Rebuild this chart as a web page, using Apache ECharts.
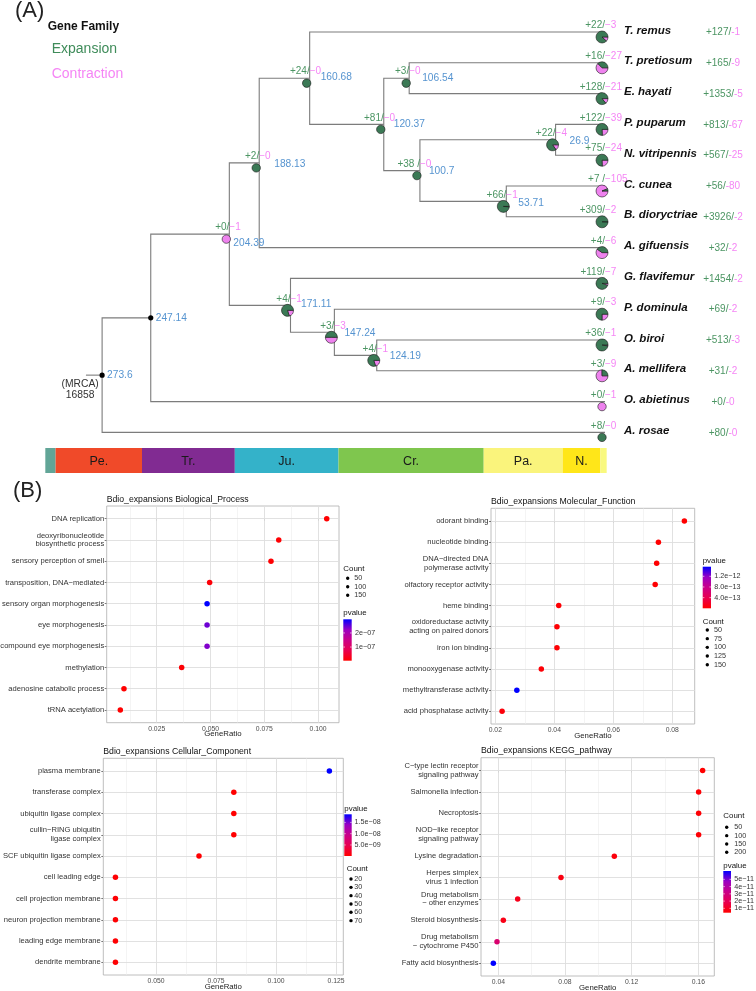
<!DOCTYPE html>
<html><head><meta charset="utf-8">
<script src="https://cdn.jsdelivr.net/npm/echarts@6/dist/echarts.min.js"></script>
<style>html,body{margin:0;padding:0;background:#fff}#c{width:756px;height:991px}</style>
</head><body><div id="c"></div>
<script>
// ================= PANEL A DATA =================
const species = ['T. remus','T. pretiosum','E. hayati','P. puparum','N. vitripennis','C. cunea','B. dioryctriae','A. gifuensis','G. flavifemur','P. dominula','O. biroi','A. mellifera','O. abietinus','A. rosae'];
const leafGain = [22,16,128,122,75,7,309,4,119,9,36,3,0,8];
const leafLoss = [3,27,21,39,24,105,2,6,7,3,1,9,1,0];
const totalGain = [127,165,1353,813,567,56,3926,32,1454,69,513,31,0,80];
const totalLoss = [1,9,5,67,25,80,2,2,2,2,3,2,0,0];
const nodeIds = ['n273','n247','n204','n188','n160','n120','n106','n100','n27','n54','n171','n147','n124'];
const nodeAges = [273.6,247.14,204.39,188.13,160.68,120.37,106.54,100.7,26.9,53.71,171.11,147.24,124.19];
const nodeGain = [null,null,0,2,24,81,3,38,22,66,4,3,4];
const nodeLoss = [null,null,1,0,0,0,0,0,4,1,1,3,1];
const nodeChildren = [['n247','L13'],['n204','L12'],['n188','n171'],['n160','L7'],['L0','n120'],['n106','n100'],['L1','L2'],['n27','n54'],['L3','L4'],['L5','L6'],['L8','n147'],['L9','n124'],['L10','L11']];
const rootEdgeStart = 282.4;
const mrcaFamilies = 16858;
const periodNames = ['','Pe.','Tr.','Ju.','Cr.','Pa.','N.',''];
const periodStart = [304.5,298.9,251.9,201.4,145.0,66.0,23.03,2.58];
const periodEnd = [298.9,251.9,201.4,145.0,66.0,23.03,2.58,-0.9];

// ================= PANEL B DATA =================
const bpTerms = ['DNA replication','deoxyribonucleotide\nbiosynthetic process','sensory perception of smell','transposition, DNA\u2212mediated','sensory organ morphogenesis','eye morphogenesis','compound eye morphogenesis','methylation','adenosine catabolic process','tRNA acetylation'];
const bpRatio = [0.1040,0.0817,0.0781,0.0496,0.0484,0.0484,0.0484,0.0366,0.0098,0.0081];
const bpPvalue = [4e-9,6e-9,6e-9,1.0e-8,2.97e-7,2.45e-7,2.35e-7,8e-9,3e-9,3e-9];
const bpTicks = [0.025,0.05,0.075,0.1];
const bpPTicks = [1e-7,2e-7];
const bpCount = [50,100,150];

const mfTerms = ['odorant binding','nucleotide binding','DNA\u2212directed DNA\npolymerase activity','olfactory receptor activity','heme binding','oxidoreductase activity\nacting on paired donors','iron ion binding','monooxygenase activity','methyltransferase activity','acid phosphatase activity'];
const mfRatio = [0.0841,0.0753,0.0747,0.0742,0.0415,0.0409,0.0409,0.0356,0.0273,0.0223];
const mfPvalue = [1e-15,5e-15,5e-15,1e-14,2e-14,2e-14,2e-14,3e-14,1.56e-12,5e-14];
const mfTicks = [0.02,0.04,0.06,0.08];
const mfPTicks = [4e-13,8e-13,1.2e-12];
const mfCount = [50,75,100,125,150];

const ccTerms = ['plasma membrane','transferase complex','ubiquitin ligase complex','cullin\u2212RING ubiquitin\nligase complex','SCF ubiquitin ligase complex','cell leading edge','cell projection membrane','neuron projection membrane','leading edge membrane','dendrite membrane'];
const ccRatio = [0.1222,0.0824,0.0824,0.0824,0.0679,0.0331,0.0331,0.0331,0.0331,0.0331];
const ccPvalue = [1.86e-8,1e-10,1e-10,1e-10,2e-10,3e-10,3e-10,3e-10,3e-10,3e-10];
const ccTicks = [0.05,0.075,0.1,0.125];
const ccPTicks = [5e-9,1e-8,1.5e-8];
const ccCount = [20,30,40,50,60,70];

const keggTerms = ['C\u2212type lectin receptor\nsignaling pathway','Salmonella infection','Necroptosis','NOD\u2212like receptor\nsignaling pathway','Lysine degradation','Herpes simplex\nvirus 1 infection','Drug metabolism\n\u2212 other enzymes','Steroid biosynthesis','Drug metabolism\n\u2212 cytochrome P450','Fatty acid biosynthesis'];
const keggRatio = [0.1626,0.1602,0.1602,0.1602,0.1096,0.0776,0.0516,0.0430,0.0392,0.0370];
const keggPvalue = [0.4e-11,0.5e-11,0.5e-11,0.5e-11,0.6e-11,0.7e-11,0.9e-11,0.8e-11,2.6e-11,6.15e-11];
const keggTicks = [0.04,0.08,0.12,0.16];
const keggPTicks = [1e-11,2e-11,3e-11,4e-11,5e-11];
const keggCount = [50,100,150,200];

// ================= STYLE / LAYOUT =================
const FONT = '"Liberation Sans", Arial, Helvetica, sans-serif';
const GREEN_FILL = '#3B7955', PINK_FILL = '#EE82EE';
const GREEN_TXT = '#4C9563', PINK_TXT = '#F585F5', BLUE_TXT = '#5694D0';
const periodColors = ['#62A597','#F04A29','#812B92','#34B2C9','#7FC64E','#FAF47C','#FFE619','#F9F97F'];
const RAMP = ['#FF0000','#E8004F','#CA0088','#9A00C2','#0000FF'];
const SCALE_TOP = 13.506, SCALE_BOTTOM = 14.318;
const PIE_DX = -3, PIE_DY = 5;
const ageNudge = {n273:[5,0],n247:[5,0],n204:[4,9],n188:[15,1],n160:[11,-1],n120:[10,0],n106:[13,0],n100:[9,1],n27:[14,1.5],n54:[12,2],n171:[10.5,-0.7],n147:[10,1],n124:[13,1]};
const gainSpaced = ['n100','L5'];

// ================= BUILD TREE =================
const nodes = {};
species.forEach((s,i)=>{ nodes['L'+i] = {id:'L'+i, age:0, y:i, gain:leafGain[i], loss:leafLoss[i], leaf:true, name:s, tg:totalGain[i], tl:totalLoss[i]}; });
nodeIds.forEach((id,k)=>{ nodes[id] = {id, age:nodeAges[k], gain:nodeGain[k], loss:nodeLoss[k], children:nodeChildren[k], leaf:false}; });
function yOf(id){ const n = nodes[id]; if (n.y !== undefined) return n.y; n.y = (yOf(n.children[0]) + yOf(n.children[1]))/2; return n.y; }
yOf('n273');
const allNodes = Object.values(nodes);
const edgeData = [];
nodeIds.forEach(id=>{ const p = nodes[id]; p.children.forEach(cid=>{ const c = nodes[cid]; edgeData.push([p.age,p.y,c.age,c.y]); }); });
edgeData.push([rootEdgeStart, nodes.n273.y, nodes.n273.age, nodes.n273.y]);

function renderEdge(params, api){
  const pa = api.value(0), py = api.value(1), ca = api.value(2), cy = api.value(3);
  const p1 = api.coord([pa,py]), p2 = api.coord([pa,cy]), p3 = api.coord([ca,cy]);
  return {type:'polyline', shape:{points:[p1,p2,p3]}, style:{stroke:'#7C7C7C', lineWidth:1.1, fill:null}, silent:true};
}
function renderPie(params, api){
  const age = api.value(0), y = api.value(1), g = api.value(2), l = api.value(3);
  const c = api.coord([age,y]);
  if (g < 0) {
    return {type:'circle', shape:{cx:c[0], cy:c[1], r:2.6}, style:{fill:'#000'}};
  }
  const cx = c[0] + PIE_DX, cy = c[1] + PIE_DY;
  const st = {stroke:'#1a1a1a', lineWidth:0.6};
  if (g > 0 && l > 0) {
    const f = l/(g+l), r = 6;
    return {type:'group', children:[
      {type:'sector', shape:{cx, cy, r, r0:0, startAngle:0, endAngle:2*Math.PI*f, clockwise:true}, style:Object.assign({fill:PINK_FILL}, st)},
      {type:'sector', shape:{cx, cy, r, r0:0, startAngle:2*Math.PI*f, endAngle:2*Math.PI, clockwise:true}, style:Object.assign({fill:GREEN_FILL}, st)}
    ]};
  }
  return {type:'circle', shape:{cx, cy, r:4.2}, style:Object.assign({fill: g > 0 ? GREEN_FILL : PINK_FILL}, st)};
}
function txt(text, x, y, align, fill, font, extra){
  return {type:'text', silent:true, style:Object.assign({text, x, y, align, verticalAlign:'middle', fill, font}, extra||{})};
}
function renderNodeText(params, api){
  const n = allNodes[params.dataIndex];
  const c = api.coord([n.age, n.y]);
  const kids = [];
  const f10 = '10px ' + FONT;
  if (n.gain != null) {
    const gy = c[1] - 6.5;
    const gt = '+' + n.gain + (gainSpaced.indexOf(n.id) >= 0 ? ' ' : '') + '/';
    kids.push(txt(gt, c[0], gy, 'right', GREEN_TXT, f10));
    kids.push(txt('\u2212' + n.loss, c[0], gy, 'left', PINK_TXT, f10));
  }
  if (!n.leaf) {
    const d = ageNudge[n.id];
    kids.push(txt(String(n.age), c[0] + d[0], c[1] + d[1], 'left', BLUE_TXT, '10.2px ' + FONT));
  } else {
    kids.push(txt(n.name, c[0] + 19, c[1] - 1.5, 'left', '#111', 'italic bold 11.5px ' + FONT));
    kids.push({type:'text', silent:true, style:{text:'{g|+' + n.tg + '/}{p|-' + n.tl + '}', x:c[0] + 118, y:c[1] + 0.5, align:'center', verticalAlign:'middle', font:f10,
      rich:{g:{fill:GREEN_TXT, fontSize:10, fontFamily:FONT}, p:{fill:PINK_TXT, fontSize:10, fontFamily:FONT}}}});
  }
  if (n.id === 'n273') {
    kids.push(txt('(MRCA)', c[0] - 22, c[1] + 9.5, 'center', '#333', '10.3px ' + FONT));
    kids.push(txt(String(mrcaFamilies), c[0] - 22, c[1] + 20, 'center', '#333', '10.3px ' + FONT));
  }
  return {type:'group', children:kids};
}
function renderScale(params, api){
  const i = params.dataIndex;
  const p1 = api.coord([api.value(0), SCALE_TOP]), p2 = api.coord([api.value(1), SCALE_BOTTOM]);
  const x = Math.min(p1[0],p2[0]), w = Math.abs(p2[0]-p1[0]), y = p1[1], h = p2[1]-p1[1];
  return {type:'group', children:[
    {type:'rect', shape:{x, y, width:w, height:h}, style:{fill:periodColors[i]}},
    txt(periodNames[i], x + w/2, y + h/2 + 1.5, 'center', '#1a1a1a', '12.5px ' + FONT)
  ]};
}

// ================= PANEL B LAYOUT =================
const dotPanels = [
  {title:'Bdio_expansions Biological_Process', terms:bpTerms, ratio:bpRatio, p:bpPvalue, ticks:bpTicks, pTicks:bpPTicks, count:bpCount, dec:3, pDigits:0,
   grid:{left:106.7, top:506, width:232.3, height:216.7}, xMin:0.00177, xMax:0.1097, titleY:499.3,
   lg:{countTitle:[343.3,569], countY0:578.3, countStep:8.5, countDotX:347.7, countTextX:354.3, pTitle:[343.3,613.3], bar:[343.3,619.3,8.4,41.4], pTextX:355}},
  {title:'Bdio_expansions Molecular_Function', terms:mfTerms, ratio:mfRatio, p:mfPvalue, ticks:mfTicks, pTicks:mfPTicks, count:mfCount, dec:2, pDigits:1,
   grid:{left:491, top:508.3, width:203.7, height:215.7}, xMin:0.01854, xMax:0.0876, titleY:501.7,
   lg:{pTitle:[702.7,560.7], bar:[702.7,566.7,8.3,41.6], pTextX:714.3, countTitle:[702.7,621.7], countY0:630, countStep:8.67, countDotX:707.3, countTextX:714}},
  {title:'Bdio_expansions Cellular_Component', terms:ccTerms, ratio:ccRatio, p:ccPvalue, ticks:ccTicks, pTicks:ccPTicks, count:ccCount, dec:3, pDigits:1,
   grid:{left:103.3, top:758.3, width:240, height:216.7}, xMin:0.02804, xMax:0.128, titleY:751.7,
   lg:{pTitle:[344.3,809], bar:[344.3,814.3,7.4,41.7], pTextX:354.5, countTitle:[346.7,869.3], countY0:879, countStep:8.33, countDotX:351, countTextX:354.3}},
  {title:'Bdio_expansions KEGG_pathway', terms:keggTerms, ratio:keggRatio, p:keggPvalue, ticks:keggTicks, pTicks:keggPTicks, count:keggCount, dec:2, pDigits:0,
   grid:{left:481, top:757.7, width:233.3, height:218.3}, xMin:0.0296, xMax:0.1696, titleY:751,
   lg:{countTitle:[723.3,815.7], countY0:827.3, countStep:8.33, countDotX:726.7, countTextX:734.3, pTitle:[723.3,866], bar:[723.3,871,7.7,41.7], pTextX:734.3}}
];

function fmtSci(v, digits){
  let e = Math.floor(Math.log10(v) + 1e-9);
  let m = v / Math.pow(10, e);
  return m.toFixed(digits) + 'e' + (e < 0 ? '\u2212' : '+') + String(Math.abs(e)).padStart(2,'0');
}

const grids = [{left:35.2, top:1.2, width:573.5, height:492.8, show:false, outerBoundsMode:'none'}];
const xAxes = [{type:'value', gridIndex:0, min:-2, max:310, inverse:true, show:false}];
const yAxes = [{type:'value', gridIndex:0, min:-1, max:15, inverse:true, show:false}];
const series = [
  {type:'custom', xAxisIndex:0, yAxisIndex:0, data:edgeData, renderItem:renderEdge, z:2, silent:true, clip:false},
  {type:'custom', xAxisIndex:0, yAxisIndex:0, data:allNodes.map(n=>[n.age, n.y, n.gain == null ? -1 : n.gain, n.loss == null ? -1 : n.loss]), renderItem:renderPie, z:3, silent:true, clip:false},
  {type:'custom', xAxisIndex:0, yAxisIndex:0, data:allNodes.map(n=>[n.age, n.y]), renderItem:renderNodeText, z:4, silent:true, clip:false},
  {type:'custom', xAxisIndex:0, yAxisIndex:0, data:periodStart.map((s,i)=>[s, periodEnd[i]]), renderItem:renderScale, z:1, silent:true, clip:false}
];
const visualMaps = [];
const graphics = [];
const scatterSeries = [];

graphics.push({type:'text', x:15, y:11, style:{text:'(A)', font:'22px ' + FONT, fill:'#222', verticalAlign:'middle'}});
graphics.push({type:'text', x:13, y:491, style:{text:'(B)', font:'22px ' + FONT, fill:'#222', verticalAlign:'middle'}});
graphics.push({type:'text', x:47.7, y:26.7, style:{text:'Gene Family', font:'bold 12px ' + FONT, fill:'#111', verticalAlign:'middle'}});
graphics.push({type:'text', x:51.7, y:49, style:{text:'Expansion', font:'14px ' + FONT, fill:'#3F8C5A', verticalAlign:'middle'}});
graphics.push({type:'text', x:51.7, y:73.7, style:{text:'Contraction', font:'14px ' + FONT, fill:'#F585F5', verticalAlign:'middle'}});

dotPanels.forEach((P, k)=>{
  const gi = k + 1;
  grids.push(Object.assign({show:true, borderColor:'#ADADAD', borderWidth:0.8, outerBoundsMode:'none'}, P.grid));
  const d = P.ticks[1] - P.ticks[0];
  const minors = [P.ticks[0] - d/2].concat(P.ticks.map(t=>t + d/2)).filter(v=>v > P.xMin && v < P.xMax);
  const rows = P.terms.map((t,i)=>i);
  const pMin = Math.min.apply(null, P.p), pMax = Math.max.apply(null, P.p);
  xAxes.push({type:'value', gridIndex:gi, min:P.xMin, max:P.xMax,
    splitLine:{show:false}, axisLine:{show:false},
    axisTick:{show:true, customValues:P.ticks, length:2, lineStyle:{color:'#444', width:0.7}},
    axisLabel:{customValues:P.ticks, formatter:v=>Number(v).toFixed(P.dec), fontSize:6.8, color:'#4D4D4D', fontFamily:FONT, margin:2.5},
    name:'GeneRatio', nameLocation:'middle', nameGap:7.5, nameMoveOverlap:false,
    nameTextStyle:{fontSize:7.8, color:'#222', fontFamily:FONT, verticalAlign:'top'}});
  yAxes.push({type:'value', gridIndex:gi, min:-0.6, max:9.6, inverse:true,
    splitLine:{show:false}, axisLine:{show:false},
    axisTick:{show:true, customValues:rows, length:2, lineStyle:{color:'#444', width:0.7}},
    axisLabel:{customValues:rows, formatter:v=>P.terms[Math.round(v)], fontSize:7.6, lineHeight:8.8, color:'#333', fontFamily:FONT, margin:2.5, align:'right'}});
  // gridlines: explicit two-point markLines through the axes' scales
  const major = {color:'#DEDEDE', width:0.9, type:'solid'}, minor = {color:'#ECECEC', width:0.6, type:'solid'};
  const mlData = P.ticks.map(v=>[{coord:[v, -0.6], lineStyle:major}, {coord:[v, 9.6]}])
    .concat(minors.map(v=>[{coord:[v, -0.6], lineStyle:minor}, {coord:[v, 9.6]}]))
    .concat(rows.map(i=>[{coord:[P.xMin, i], lineStyle:major}, {coord:[P.xMax, i]}]));
  series.push({type:'line', xAxisIndex:gi, yAxisIndex:gi, data:[], z:1, silent:true, showSymbol:false,
    markLine:{silent:true, symbol:['none','none'], label:{show:false}, emphasis:{disabled:true}, animation:false, z:1, data:mlData}});
  scatterSeries.push({type:'scatter', xAxisIndex:gi, yAxisIndex:gi, data:P.ratio.map((r,i)=>[r, i, P.p[i]]), symbolSize:5.5, z:5, silent:true, itemStyle:{opacity:1}});
  graphics.push({type:'text', x:P.grid.left, y:P.titleY, style:{text:P.title, font:'8.7px ' + FONT, fill:'#111', verticalAlign:'middle'}});
  const L = P.lg, b = L.bar;
  graphics.push({type:'text', x:L.pTitle[0], y:L.pTitle[1], style:{text:'pvalue', font:'7.9px ' + FONT, fill:'#111', verticalAlign:'middle'}});
  graphics.push({type:'rect', shape:{x:b[0], y:b[1], width:b[2], height:b[3]}, style:{fill:new echarts.graphic.LinearGradient(0,0,0,1,[
    {offset:0, color:RAMP[4]},{offset:0.25, color:RAMP[3]},{offset:0.5, color:RAMP[2]},{offset:0.75, color:RAMP[1]},{offset:1, color:RAMP[0]}])}});
  P.pTicks.forEach(v=>{
    const yy = b[1] + b[3] - (v - pMin)/(pMax - pMin)*b[3];
    graphics.push({type:'line', shape:{x1:b[0], y1:yy, x2:b[0] + b[2]*0.2, y2:yy}, style:{stroke:'#fff', lineWidth:0.6}});
    graphics.push({type:'line', shape:{x1:b[0] + b[2]*0.8, y1:yy, x2:b[0] + b[2], y2:yy}, style:{stroke:'#fff', lineWidth:0.6}});
    graphics.push({type:'text', x:L.pTextX, y:yy, style:{text:fmtSci(v, P.pDigits), font:'7.2px ' + FONT, fill:'#333', verticalAlign:'middle'}});
  });
  graphics.push({type:'text', x:L.countTitle[0], y:L.countTitle[1], style:{text:'Count', font:'7.9px ' + FONT, fill:'#111', verticalAlign:'middle'}});
  P.count.forEach((c,i)=>{
    const yy = L.countY0 + i*L.countStep;
    graphics.push({type:'circle', shape:{cx:L.countDotX, cy:yy, r:1.7}, style:{fill:'#000'}});
    graphics.push({type:'text', x:L.countTextX, y:yy, style:{text:String(c), font:'7.2px ' + FONT, fill:'#333', verticalAlign:'middle'}});
  });
  visualMaps.push({type:'continuous', show:false, seriesIndex:8 + k, dimension:2, min:pMin, max:pMax, inRange:{color:RAMP}});
});
scatterSeries.forEach(s=>series.push(s));

const chart = echarts.init(document.getElementById('c'), null, {renderer:'canvas'});
chart.setOption({
  animation:false,
  backgroundColor:'#fff',
  textStyle:{fontFamily:FONT},
  grid:grids, xAxis:xAxes, yAxis:yAxes,
  visualMap:visualMaps,
  series:series,
  graphic:{elements:graphics}
});
</script></body></html>
